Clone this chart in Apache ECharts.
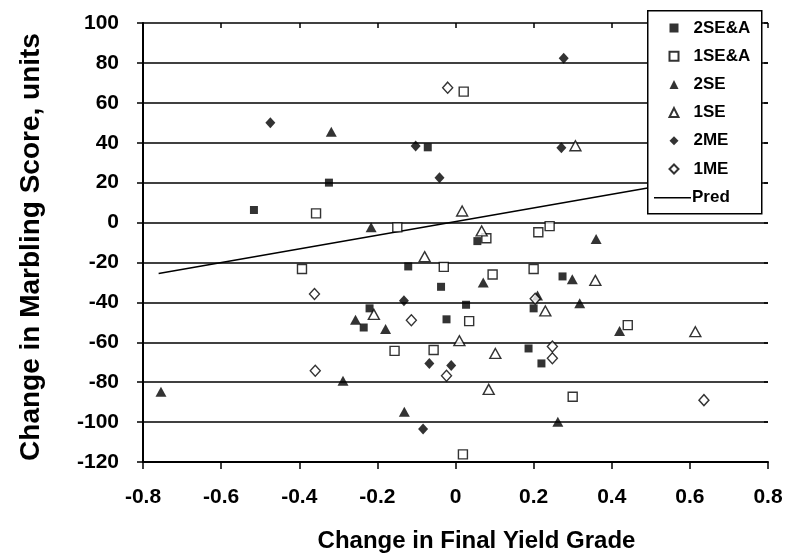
<!DOCTYPE html>
<html><head><meta charset="utf-8">
<script src="https://cdn.jsdelivr.net/npm/echarts@6/dist/echarts.min.js"></script>
<style>html,body{margin:0;padding:0;background:#fff}#c{width:791px;height:555px}</style>
</head><body><div id="c"></div><script>
// ---- data ----
const xTickLabels = ['-0.8','-0.6','-0.4','-0.2','0','0.2','0.4','0.6','0.8'];
const yTickLabels = ['-120','-100','-80','-60','-40','-20','0','20','40','60','80','100'];
const seriesNames = ['2SE&A','1SE&A','2SE','1SE','2ME','1ME','Pred'];
const s2SEA = [[-0.516,6.3],[-0.324,20.0],[-0.071,37.7],[-0.121,-22.0],[-0.037,-32.2],[0.027,-41.2],[-0.220,-43.0],[-0.235,-52.6],[-0.023,-48.5],[0.056,-9.3],[0.274,-27.0],[0.200,-43.0],[0.187,-63.1],[0.220,-70.6]];
const s1SEA = [[0.021,65.6],[-0.357,4.6],[-0.149,-2.4],[-0.393,-23.3],[-0.030,-22.2],[0.035,-49.4],[-0.156,-64.3],[-0.056,-63.9],[0.019,-116.2],[0.079,-7.9],[0.212,-4.9],[0.241,-1.8],[0.095,-26.0],[0.200,-23.3],[0.441,-51.4],[0.300,-87.3]];
const s2SE = [[-0.318,45.5],[-0.216,-2.4],[-0.256,-48.7],[-0.179,-53.4],[-0.288,-79.3],[-0.754,-84.8],[-0.131,-94.8],[0.360,-8.3],[0.071,-30.1],[0.299,-28.4],[0.318,-40.5],[0.420,-54.4],[0.262,-99.8],[0.210,-36.5]];
const s1SE = [[0.017,5.8],[-0.079,-17.1],[-0.209,-46.0],[0.010,-59.2],[0.067,-4.2],[0.307,38.5],[0.358,-29.0],[0.230,-44.3],[0.614,-54.7],[0.102,-65.6],[0.085,-83.6]];
const s2ME = [[-0.474,50.0],[-0.102,38.3],[-0.041,22.5],[0.277,82.3],[0.271,37.5],[-0.132,-39.2],[-0.067,-70.6],[-0.011,-71.6],[-0.083,-103.5]];
const s1ME = [[-0.020,67.6],[-0.361,-35.8],[-0.113,-49.0],[-0.023,-76.8],[-0.359,-74.3],[0.204,-38.2],[0.248,-62.1],[0.248,-68.0],[0.636,-89.0]];
const predLine = [[-0.76,-25.5],[0.62,21.7]];
const xTitle = 'Change in Final Yield Grade';
const yTitle = 'Change in Marbling Score, units';

// ---- chart ----
const F = '"Liberation Sans", Arial, sans-serif';
const FN = '"Liberation Sans Narrow", "Arial Narrow", "Liberation Sans", sans-serif';
const chart = echarts.init(document.getElementById('c'), null, {renderer:'canvas'});
const filled = {color:'#000', borderColor:'#000', borderWidth:0};
const hollow = {color:'#fff', borderColor:'#000', borderWidth:1.4};
function sc(name, data, symbol, size, style){
  return {name, type:'scatter', data, symbol, symbolSize:size, itemStyle:style, z:2, silent:true};
}
const xBase = {type:'value', min:-0.8, max:0.8, interval:0.2, gridIndex:0};
const yBase = {type:'value', min:-120, max:100, interval:20, gridIndex:0};
const legendText = {color:'#000', fontFamily:F, fontWeight:'bold', fontSize:17, lineHeight:18,
  rich:{b:{color:'#000', fontFamily:F, fontWeight:'bold', fontSize:17, lineHeight:18}}};
chart.setOption({
  animation:false,
  backgroundColor:'#fff',
  grid:{left:143, top:23, right:23, bottom:93, containLabel:false, outerBoundsMode:'none'},
  xAxis:[
    Object.assign({}, xBase, {
      axisLine:{onZero:false, lineStyle:{color:'#000', width:2}},
      axisTick:{length:7, lineStyle:{color:'#000', width:1.5}},
      splitLine:{show:false},
      axisLabel:{color:'#000', fontFamily:FN, fontWeight:'bold', fontSize:21, margin:25,
        formatter:v=>xTickLabels[Math.round((v+0.8)/0.2)]},
      name:xTitle, nameLocation:'middle', nameGap:67,
      nameTextStyle:{color:'#000', fontFamily:F, fontWeight:'bold', fontSize:24, padding:[0,0,0,42]}
    }),
    Object.assign({}, xBase, {
      axisLine:{show:false, onZero:false}, axisLabel:{show:false}, splitLine:{show:false},
      axisTick:{inside:true, length:5, lineStyle:{color:'#000', width:1.5}}
    })
  ],
  yAxis:[
    Object.assign({}, yBase, {
      axisLine:{show:true, onZero:false, lineStyle:{color:'#000', width:2}},
      axisTick:{show:true, length:6, lineStyle:{color:'#000', width:1.5}},
      splitLine:{show:true, lineStyle:{color:'#000', width:1.6}},
      axisLabel:{color:'#000', fontFamily:F, fontWeight:'bold', fontSize:21, margin:24,
        formatter:v=>yTickLabels[Math.round((v+120)/20)]},
      name:yTitle, nameLocation:'middle', nameGap:98, nameRotate:90,
      nameTextStyle:{color:'#000', fontFamily:F, fontWeight:'bold', fontSize:28, padding:[0,9,0,0]}
    }),
    Object.assign({}, yBase, {
      axisLine:{show:false, onZero:false}, axisLabel:{show:false}, splitLine:{show:false},
      axisTick:{show:true, inside:true, length:4, lineStyle:{color:'#000', width:1.5}}
    })
  ],
  graphic:[{type:'rect', left:647, top:10, z:3, shape:{width:114, height:203},
    style:{fill:'#fff', stroke:'#000', lineWidth:1.5}}],
  legend:[
    {data:seriesNames.slice(0,6), orient:'vertical', left:647, top:10, z:4,
     padding:[9,10,35,21.5], itemWidth:9, itemHeight:9, itemGap:10.2,
     formatter:n=>'{b|'+n+'}',
     textStyle:Object.assign({padding:[0,0,0,10]}, legendText),
     selectedMode:false},
    {data:[{name:seriesNames[6], icon:'rect'}], orient:'vertical', left:654, top:188.7, z:4, padding:0,
     itemWidth:37, itemHeight:1.5, itemStyle:{color:'#000', borderWidth:0},
     formatter:n=>'{b|'+n+'}',
     textStyle:Object.assign({padding:[0,0,0,-4]}, legendText),
     selectedMode:false}
  ],
  series:[
    {name:seriesNames[6], type:'line', data:predLine, symbol:'none', showSymbol:false,
     lineStyle:{color:'#000', width:1.5}, itemStyle:{color:'#000'}, z:2, silent:true},
    sc(seriesNames[0], s2SEA, 'rect', 8, filled),
    sc(seriesNames[1], s1SEA, 'rect', 9, hollow),
    sc(seriesNames[2], s2SE, 'triangle', [11,10], filled),
    sc(seriesNames[3], s1SE, 'triangle', [11,10], hollow),
    sc(seriesNames[4], s2ME, 'diamond', [10,11], filled),
    sc(seriesNames[5], s1ME, 'diamond', [10,11], hollow)
  ]
});
</script></body></html>
